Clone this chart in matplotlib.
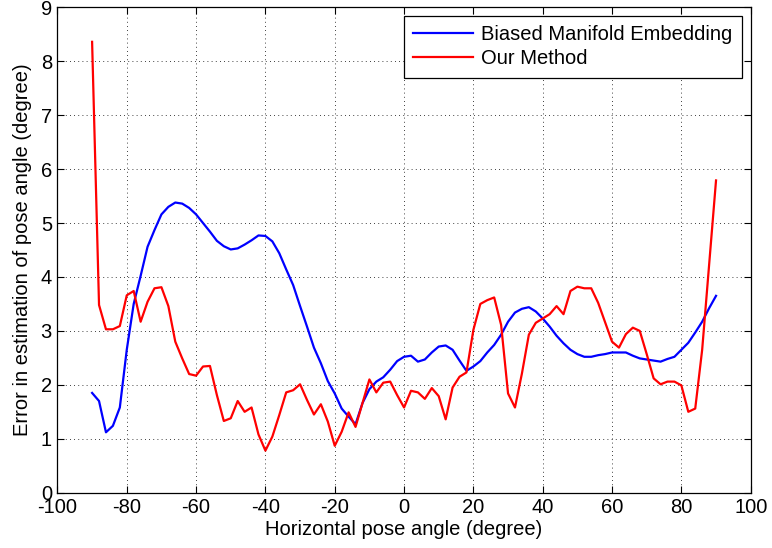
import numpy as np
import matplotlib
matplotlib.use("Agg")
import matplotlib.pyplot as plt

# pose angles, sampled every 2 degrees
angles = list(range(-90, 91, 2))

# Biased Manifold Embedding error (degree)
bme_error = [
    1.85, 1.70, 1.12, 1.24, 1.58, 2.65, 3.50, 4.02, 4.56, 4.87,
    5.16, 5.30, 5.38, 5.36, 5.28, 5.16, 5.00, 4.84, 4.67, 4.57,
    4.51, 4.53, 4.60, 4.68, 4.77, 4.76, 4.66, 4.44, 4.14, 3.85,
    3.46, 3.08, 2.69, 2.40, 2.07, 1.84, 1.56, 1.41, 1.27, 1.66,
    1.92, 2.06, 2.14, 2.28, 2.44, 2.52, 2.54, 2.43, 2.47, 2.60,
    2.71, 2.73, 2.65, 2.45, 2.26, 2.34, 2.44, 2.60, 2.74, 2.93,
    3.17, 3.34, 3.41, 3.44, 3.36, 3.23, 3.08, 2.91, 2.77, 2.65,
    2.57, 2.52, 2.52, 2.55, 2.57, 2.60, 2.60, 2.60, 2.54, 2.49,
    2.47, 2.45, 2.43, 2.48, 2.52, 2.65, 2.78, 2.97, 3.17, 3.42,
    3.65,
]

# Our Method error (degree)
our_error = [
    8.36, 3.48, 3.03, 3.03, 3.09, 3.66, 3.74, 3.17, 3.54, 3.79,
    3.81, 3.46, 2.80, 2.49, 2.20, 2.17, 2.34, 2.35, 1.81, 1.33,
    1.38, 1.70, 1.50, 1.58, 1.08, 0.78, 1.04, 1.44, 1.86, 1.90,
    2.01, 1.72, 1.45, 1.64, 1.32, 0.87, 1.13, 1.49, 1.22, 1.66,
    2.10, 1.86, 2.04, 2.06, 1.81, 1.58, 1.89, 1.86, 1.74, 1.94,
    1.79, 1.36, 1.95, 2.15, 2.23, 3.02, 3.50, 3.57, 3.62, 3.11,
    1.84, 1.58, 2.21, 2.93, 3.15, 3.23, 3.31, 3.46, 3.31, 3.74,
    3.82, 3.79, 3.79, 3.52, 3.16, 2.80, 2.69, 2.94, 3.06, 3.00,
    2.57, 2.12, 2.01, 2.06, 2.06, 1.99, 1.50, 1.56, 2.65, 4.22,
    5.79,
]

plt.rcParams["font.family"] = ["Liberation Sans", "DejaVu Sans"]
plt.rcParams["font.size"] = 14.5
plt.rcParams["axes.unicode_minus"] = False

fig = plt.figure(figsize=(7.72, 5.48), dpi=100)
ax = fig.add_axes([0.0744, 0.1009, 0.898, 0.8858])

ax.plot(angles, bme_error, color="#0000ff", lw=1.6, label="Biased Manifold Embedding")
ax.plot(angles, our_error, color="#ff0000", lw=1.6, label="Our Method")

ax.set_xlim(-100, 100)
ax.set_ylim(0, 9)
ax.set_xticks(range(-100, 101, 20))
ax.set_yticks(range(0, 10))
ax.grid(True, linestyle=(0, (1, 4)), color="black", lw=0.6)
ax.tick_params(direction="in", top=True, right=True, length=5, width=0.8, pad=4)
for s in ax.spines.values():
    s.set_linewidth(0.9)

ax.set_xlabel("Horizontal pose angle (degree)", labelpad=2)
ax.set_ylabel("Error in estimation of pose angle (degree)", labelpad=6)

# legend box in the upper right, square corners like MATLAB
leg = ax.legend(loc="upper right", fancybox=False, framealpha=1, edgecolor="black",
                handlelength=3.0, handletextpad=0.4, borderaxespad=0.45,
                borderpad=0.45, labelspacing=0.25)
leg.get_frame().set_linewidth(0.9)

fig.savefig("out.png", dpi=100)
